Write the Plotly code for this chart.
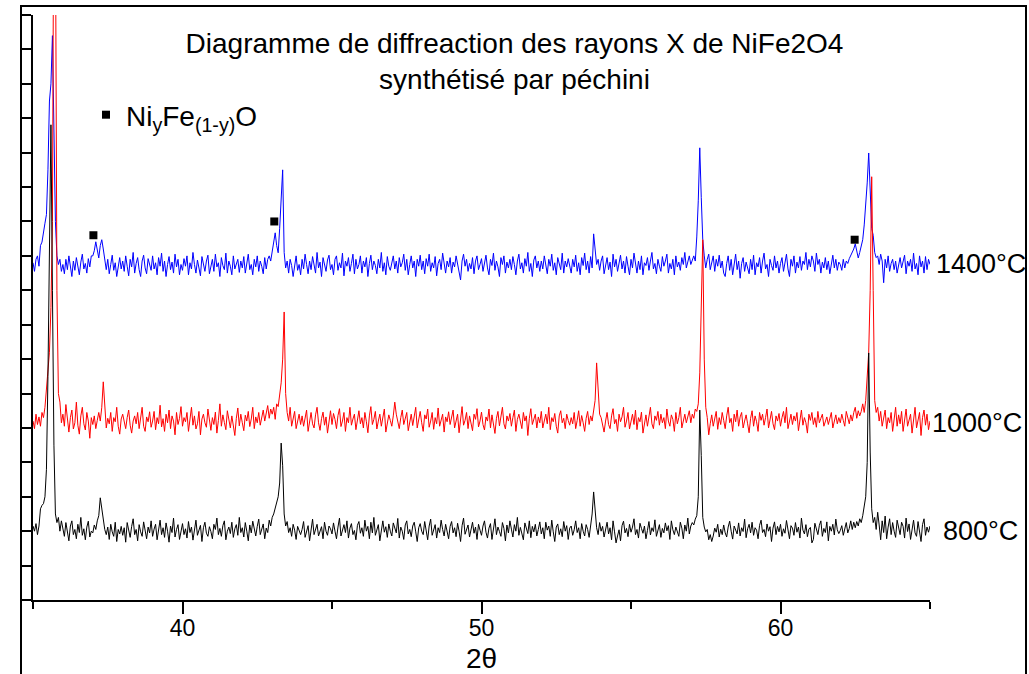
import plotly.graph_objects as go

# XRD scans of NiFe2O4 (Pechini route) after calcination, 2theta 35-65 deg, step 0.05 deg
scan_start = 35.0
scan_step = 0.05

counts_800 = [
    215, 200, 222, 190, 215, 265, 275, 280, 300, 380, 650, 1000, 1381, 900, 450, 250, 225, 240, 200, 230,
    210, 185, 225, 198, 172, 215, 230, 190, 205, 178, 220, 196, 240, 188, 207, 175, 212, 229, 183, 200,
    195, 218, 205, 230, 245, 297, 262, 228, 205, 190, 212, 176, 220, 198, 185, 226, 170, 205, 192, 214,
    188, 210, 168, 225, 200, 182, 214, 236, 190, 205, 172, 219, 198, 185, 227, 204, 178, 212, 195, 230,
    185, 206, 220, 175, 198, 232, 190, 210, 182, 224, 200, 168, 215, 196, 238, 183, 205, 219, 176, 202,
    222, 190, 207, 180, 228, 196, 212, 174, 205, 232, 188, 200, 217, 170, 210, 226, 194, 185, 213, 199,
    178, 220, 205, 238, 190, 208, 185, 216, 230, 175, 200, 212, 193, 226, 182, 207, 219, 188, 240, 196,
    210, 183, 225, 200, 172, 218, 195, 229, 206, 186, 214, 235, 190, 203, 221, 178, 209, 196, 232, 215,
    240, 250, 265, 285, 300, 340, 456, 390, 250, 215, 228, 196, 210, 185, 220, 203, 176, 214, 198, 190,
    205, 228, 182, 199, 216, 172, 210, 235, 190, 204, 220, 186, 197, 213, 178, 226, 200, 188, 215, 207,
    192, 224, 200, 178, 212, 238, 186, 205, 219, 196, 230, 180, 209, 222, 190, 202, 175, 217, 228, 194,
    210, 185, 232, 200, 214, 178, 226, 195, 240, 188, 207, 219, 172, 205, 230, 197, 213, 182, 221, 200,
    186, 224, 208, 195, 237, 180, 212, 200, 176, 218, 230, 192, 205, 184, 215, 226, 198, 170, 210, 222,
    200, 190, 228, 206, 175, 215, 235, 188, 202, 219, 180, 210, 196, 232, 205, 186, 220, 199, 178, 214,
    228, 195, 210, 184, 223, 200, 170, 216, 238, 191, 205, 218, 183, 207, 226, 194, 212, 176, 220, 203,
    188, 215, 230, 197, 180, 209, 222, 176, 204, 236, 190, 212, 199, 185, 225, 208, 172, 218, 195, 230,
    206, 183, 219, 200, 240, 188, 211, 196, 175, 224, 209, 193, 230, 181, 214, 198, 220, 186, 205, 227,
    192, 210, 178, 226, 203, 215, 185, 232, 198, 170, 212, 221, 190, 207, 184, 228, 200, 216, 176, 209,
    215, 188, 204, 230, 196, 210, 178, 222, 200, 186, 219, 205, 182, 215, 250, 314, 265, 210, 190, 225,
    200, 214, 183, 207, 226, 192, 210, 175, 230, 198, 166, 186, 204, 172, 216, 229, 195, 208, 184, 220,
    197, 212, 236, 190, 205, 180, 223, 208, 194, 215, 178, 202, 228, 189, 210, 199, 233, 185, 206, 219,
    182, 208, 195, 224, 201, 216, 176, 230, 204, 190, 212, 197, 185, 226, 209, 178, 218, 200, 238, 192,
    215, 225, 218, 235, 245, 300, 552, 420, 240, 212, 198, 205, 175, 190, 170, 186, 209, 197, 220, 183,
    206, 190, 218, 195, 183, 212, 229, 200, 177, 215, 204, 192, 224, 186, 210, 199, 235, 181, 207, 220,
    195, 226, 188, 210, 203, 178, 217, 232, 196, 205, 184, 221, 200, 213, 170, 209, 227, 190, 214, 198,
    220, 185, 207, 194, 231, 201, 178, 216, 209, 188, 225, 197, 212, 180, 238, 203, 192, 219, 184, 206,
    211, 166, 176, 223, 205, 190, 217, 230, 185, 208, 196, 227, 172, 214, 200, 220, 189, 235, 204, 193,
    202, 216, 188, 210, 225, 195, 208, 230, 205, 226, 210, 228, 215, 236, 225, 245, 270, 300, 400, 718,
    430, 265, 225, 240, 205, 255, 218, 175, 230, 196, 244, 178, 212, 236, 190, 225, 200, 182, 232, 208,
    190, 226, 214, 180, 238, 199, 221, 176, 210, 232, 195, 185, 228, 203, 170, 219, 236, 188, 212, 197,
    215,
]

counts_1000 = [
    520, 498, 540, 510, 532, 505, 545, 530, 560, 620, 680, 720, 850, 1100, 2200, 2000, 900, 600, 575, 515,
    540, 505, 568, 520, 488, 530, 552, 497, 515, 575, 508, 482, 535, 560, 512, 494, 545, 520, 470, 530,
    510, 535, 498, 522, 545, 520, 560, 634, 555, 500, 528, 512, 545, 490, 530, 518, 560, 505, 482, 526,
    540, 515, 498, 530, 552, 508, 485, 520, 535, 512, 545, 498, 525, 560, 505, 490, 532, 518, 547, 502,
    520, 548, 495, 530, 512, 566, 503, 527, 490, 540, 515, 552, 498, 535, 520, 480, 545, 510, 528, 562,
    505, 530, 518, 545, 490, 522, 560, 508, 535, 497, 512, 548, 480, 526, 540, 515, 502, 555, 520, 493,
    530, 510, 546, 485, 522, 570, 505, 538, 516, 495, 550, 524, 500, 535, 512, 478, 528, 558, 506, 540,
    515, 492, 537, 520, 548, 504, 526, 560, 498, 532, 515, 545, 508, 530, 552, 520, 540, 565, 528, 555,
    540, 560, 525, 570, 562, 590, 631, 700, 837, 600, 545, 520, 560, 505, 530, 548, 498, 522, 540, 510,
    535, 505, 528, 552, 490, 520, 545, 512, 500, 538, 560, 515, 493, 527, 546, 508, 532, 485, 520, 550,
    510, 542, 525, 498, 536, 556, 504, 520, 545, 490, 530, 515, 560, 508, 526, 540, 495, 522, 550, 512,
    530, 500, 545, 518, 486, 535, 562, 510, 525, 548, 497, 520, 540, 505, 530, 555, 488, 516, 538, 522,
    505, 535, 575, 540, 515, 498, 530, 552, 510, 526, 545, 492, 518, 540, 507, 532, 560, 500, 522, 548,
    515, 490, 538, 526, 555, 502, 520, 545, 496, 530, 512, 558, 505, 524, 540, 488, 532, 518, 547, 510,
    528, 552, 500, 518, 540, 486, 530, 562, 508, 522, 545, 498, 535, 515, 492, 540, 525, 556, 503, 520,
    546, 510, 494, 532, 520, 555, 500, 538, 515, 484, 528, 548, 506, 530, 560, 512, 497, 535, 520, 542,
    505, 530, 552, 490, 525, 540, 512, 498, 545, 520, 535, 478, 528, 556, 510, 522, 540, 500, 532, 515,
    548, 500, 526, 540, 512, 560, 495, 530, 518, 542, 505, 485, 535, 550, 515, 528, 498, 540, 522, 508,
    530, 512, 545, 498, 522, 550, 505, 536, 515, 490, 528, 548, 510, 535, 520, 545, 580, 689, 590, 540,
    530, 505, 488, 520, 545, 510, 498, 535, 556, 512, 525, 490, 540, 518, 532, 560, 502, 520, 545, 497,
    525, 540, 510, 552, 495, 530, 518, 546, 485, 520, 538, 505, 528, 560, 512, 498, 535, 522, 548, 508,
    540, 515, 530, 498, 555, 520, 505, 538, 525, 490, 545, 512, 530, 560, 500, 522, 540, 515, 535, 550,
    515, 540, 528, 555, 548, 570, 660, 900, 1047, 700, 560, 530, 480, 512, 538, 505, 525, 548, 496, 530,
    510, 545, 522, 498, 535, 560, 515, 528, 490, 540, 518, 552, 505, 532, 545, 500, 520, 538, 512, 486,
    528, 550, 505, 535, 518, 490, 545, 522, 540, 508, 530, 555, 500, 525, 548, 512, 495, 535, 520, 542,
    505, 530, 548, 515, 560, 498, 524, 540, 510, 535, 520, 545, 492, 528, 552, 508, 530, 515, 485, 540,
    522, 545, 510, 530, 502, 548, 515, 528, 540, 505, 518, 532, 510, 525, 545, 500, 520, 538, 512, 530,
    515, 540, 522, 505, 548, 530, 512, 538, 520, 545, 560, 528, 550, 535, 548, 570, 545, 580, 640, 720,
    900, 1230, 900, 580, 545, 560, 520, 548, 505, 535, 552, 498, 530, 515, 545, 490, 525, 560, 505, 538,
    512, 548, 490, 530, 555, 505, 522, 540, 485, 535, 560, 500, 520, 545, 478, 530, 552, 508, 540, 495,
    520,
]

counts_1400 = [
    980, 955, 990, 1000, 970, 1030, 1040, 1075, 1095, 1120, 1250, 1450, 1500, 1640, 1350, 1100, 1000, 975, 990, 955,
    975, 948, 990, 960, 1000, 972, 940, 985, 958, 995, 970, 945, 982, 1005, 962, 978, 950, 992, 968, 1000,
    1000, 1015, 1041, 1010, 994, 1030, 1047, 1020, 985, 960, 990, 948, 975, 1002, 958, 980, 940, 970, 995, 962,
    985, 955, 1000, 970, 942, 990, 968, 1010, 950, 978, 995, 960, 940, 985, 1002, 965, 948, 992, 972, 958,
    1000, 962, 980, 945, 995, 970, 1008, 955, 985, 940, 975, 998, 960, 982, 950, 1005, 968, 990, 945, 975,
    958, 992, 970, 1000, 945, 980, 962, 1010, 975, 950, 988, 965, 942, 998, 970, 955, 985, 1002, 948, 972,
    990, 955, 1005, 968, 980, 940, 995, 972, 960, 1008, 950, 985, 970, 945, 1000, 962, 978, 990, 952, 985,
    965, 998, 950, 982, 1005, 960, 975, 945, 990, 968, 1000, 955, 985, 970, 948, 995, 962, 990, 1000, 985,
    1010, 1040, 1067, 1030, 1009, 1080, 1150, 1250, 1010, 965, 985, 950, 990, 972, 940, 980, 1000, 958, 975, 945,
    990, 962, 1005, 975, 948, 985, 960, 998, 972, 950, 1010, 965, 982, 940, 995, 970, 955, 988, 1002, 960,
    975, 945, 990, 1000, 958, 980, 965, 1008, 942, 985, 970, 995, 955, 978, 1005, 948, 990, 962, 975, 1000,
    950, 985, 968, 995, 940, 978, 1002, 960, 985, 972, 948, 990, 965, 1010, 955, 980, 945, 998, 970, 958,
    975, 1000, 962, 985, 950, 995, 968, 980, 1005, 958, 990, 945, 975, 1000, 965, 985, 940, 990, 970, 1002,
    960, 985, 948, 992, 970, 1005, 955, 980, 965, 998, 942, 978, 990, 960, 1008, 972, 950, 985, 968, 995,
    950, 982, 968, 1000, 975, 958, 930, 985, 1005, 970, 990, 955, 978, 962, 995, 948, 985, 1000, 960, 975,
    992, 955, 980, 1002, 965, 945, 990, 972, 1008, 958, 985, 968, 940, 995, 975, 1000, 950, 982, 965, 990,
    960, 998, 975, 945, 985, 1005, 962, 980, 950, 992, 970, 1010, 955, 978, 940, 988, 1000, 965, 985, 955,
    985, 962, 1000, 975, 948, 990, 970, 1005, 958, 980, 945, 995, 972, 960, 1008, 950, 985, 968, 992, 975,
    950, 990, 968, 1002, 955, 980, 945, 995, 972, 1008, 960, 985, 950, 998, 965, 1064, 1010, 975, 990, 958,
    985, 1000, 948, 972, 995, 960, 982, 940, 1005, 968, 990, 955, 978, 1002, 962, 985, 950, 998, 970, 945,
    990, 965, 1008, 975, 950, 985, 960, 1000, 945, 980, 972, 995, 958, 985, 1010, 962, 978, 948, 990, 970,
    955, 998, 970, 985, 1005, 950, 978, 962, 990, 945, 1000, 968, 982, 958, 995, 975, 1010, 965, 985, 1000,
    975, 990, 1000, 985, 1055, 1160, 1314, 1170, 1047, 1000, 965, 990, 1005, 960, 985, 1000, 955, 990, 970, 1002,
    965, 985, 950, 940, 978, 1000, 958, 990, 945, 972, 1005, 960, 985, 935, 978, 995, 955, 982, 968, 948,
    990, 960, 1002, 945, 980, 968, 995, 950, 985, 1008, 962, 975, 940, 990, 972, 958, 1000, 965, 985, 950,
    978, 995, 955, 985, 1005, 962, 940, 990, 970, 1000, 950, 982, 965, 998, 958, 985, 975, 1010, 960, 990,
    968, 1000, 985, 955, 1008, 975, 990, 950, 982, 965, 995, 960, 985, 948, 978, 1002, 965, 990, 958, 982,
    975, 958, 990, 965, 985, 978, 992, 1000, 1010, 1020, 1035, 1015, 994, 1010, 1030, 1047, 1090, 1140, 1212, 1299,
    1200, 1080, 1060, 1010, 995, 1000, 975, 1005, 985, 922, 990, 965, 1000, 955, 978, 990, 960, 985, 950, 972,
    995, 965, 980, 1002, 948, 985, 970, 990, 955, 1008, 962, 978, 945, 1000, 968, 985, 950, 998, 960, 990,
    975,
]

# NiyFe(1-y)O reflections flagged on the 1400 degC pattern
phase_2theta = [37.02, 43.07, 62.48]
phase_counts = [1060, 1100, 1047]

# series labels, written just right of the scan end at each pattern's level
temp_labels = ["1400°C", "1000°C", "800°C"]
temp_label_y = [975, 515, 200]
temp_label_px = [934, 930, 941]

x_ticks_major = [40, 50, 60]
x_ticks_minor = [35, 45, 55, 65]

for series in (counts_800, counts_1000, counts_1400):
    assert len(series) == 601, len(series)

two_theta = [round(scan_start + scan_step * i, 2) for i in range(len(counts_800))]

FONT = "Liberation Sans, Arial, Helvetica, sans-serif"
PLOT_L, PLOT_R, PLOT_T, PLOT_B = 33, 930, 15, 600   # plot area edges in pixels
PW, PH = PLOT_R - PLOT_L, PLOT_B - PLOT_T

fig = go.Figure()
fig.add_trace(go.Scatter(x=two_theta, y=counts_1400, mode="lines",
                         line=dict(color="#0000ff", width=1), showlegend=False))
fig.add_trace(go.Scatter(x=two_theta, y=counts_1000, mode="lines",
                         line=dict(color="#ff0000", width=1), showlegend=False))
fig.add_trace(go.Scatter(x=two_theta, y=counts_800, mode="lines",
                         line=dict(color="#000000", width=1), showlegend=False))
fig.add_trace(go.Scatter(x=phase_2theta, y=phase_counts, mode="markers",
                         marker=dict(symbol="square", size=8, color="black"),
                         name="Ni<sub>y</sub>Fe<sub>(1-y)</sub>O", showlegend=True))

for txt, px, ly in zip(temp_labels, temp_label_px, temp_label_y):
    fig.add_annotation(x=(px - PLOT_L) / PW, y=ly, xref="paper", yref="y", text=txt,
                       showarrow=False, xanchor="left", yanchor="middle",
                       font=dict(family=FONT, size=27, color="black"))

# outer frame around the whole graph
fig.add_shape(type="rect", xref="paper", yref="paper",
              x0=(21 - PLOT_L) / PW, x1=(1026 - PLOT_L) / PW,
              y0=-0.2, y1=(PLOT_B - 6) / PH,
              line=dict(color="black", width=2))

fig.update_layout(
    width=1029, height=674,
    margin=dict(l=PLOT_L, r=1029 - PLOT_R, t=PLOT_T, b=674 - PLOT_B, autoexpand=False),
    paper_bgcolor="white", plot_bgcolor="white",
    font=dict(family=FONT, color="black"),
    title=dict(text="Diagramme de diffreaction des rayons X de NiFe2O4<br>synthétisé par péchini",
               x=0.5, xref="container", xanchor="center",
               y=1 - 53 / 674, yref="container", yanchor="middle",
               font=dict(family=FONT, size=28, color="black")),
    legend=dict(x=(86 - PLOT_L) / PW, y=(PLOT_B - 115) / PH, xanchor="left", yanchor="middle",
                bgcolor="rgba(0,0,0,0)", borderwidth=0,
                font=dict(family=FONT, size=28, color="black")),
    xaxis=dict(range=[35, 65], showline=True, linewidth=2, linecolor="black",
               showgrid=False, zeroline=False, automargin=False,
               tickvals=x_ticks_major, ticks="outside", ticklen=12, tickwidth=2, tickcolor="black",
               ticklabelstandoff=-6,
               tickfont=dict(family=FONT, size=23, color="black"),
               minor=dict(tickvals=x_ticks_minor, ticks="outside", ticklen=7, tickwidth=2,
                          tickcolor="black"),
               title=dict(text="2θ", font=dict(family=FONT, size=28, color="black"), standoff=9)),
    yaxis=dict(range=[0, 1700], showline=True, linewidth=2, linecolor="black",
               showgrid=False, zeroline=False, showticklabels=False, automargin=False,
               tick0=0, dtick=100, ticks="outside", ticklen=11, tickwidth=2, tickcolor="black"),
)

fig.write_html("out.html")
